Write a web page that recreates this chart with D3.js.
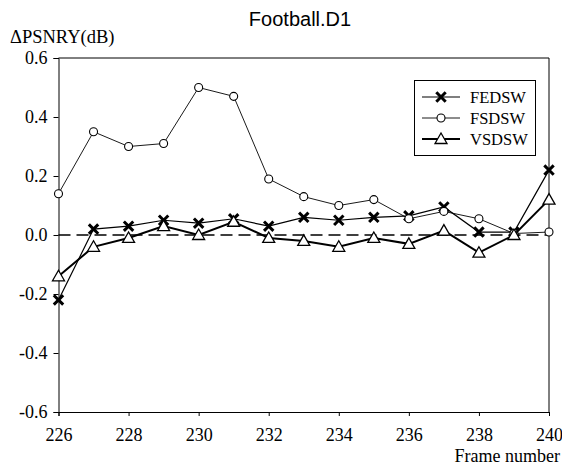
<!DOCTYPE html>
<html>
<head>
<meta charset="utf-8">
<script src="https://cdn.jsdelivr.net/npm/d3@7"></script>
<style>
  html, body { margin: 0; padding: 0; background: #fff; }
  svg { display: block; }
</style>
</head>
<body>
<div id="chart"></div>
<script>
// frames on the x axis
const frames = [226, 227, 228, 229, 230, 231, 232, 233, 234, 235, 236, 237, 238, 239, 240];

// ΔPSNR-Y per frame (dB)
const fedsw = [-0.22, 0.02, 0.03, 0.05, 0.04, 0.055, 0.03, 0.06, 0.05, 0.06, 0.065, 0.095, 0.01, 0.01, 0.22];
const fsdsw = [0.14, 0.35, 0.30, 0.31, 0.50, 0.47, 0.19, 0.13, 0.10, 0.12, 0.055, 0.08, 0.055, 0.005, 0.01];
const vsdsw = [-0.14, -0.04, -0.01, 0.03, 0.0, 0.045, -0.01, -0.02, -0.04, -0.01, -0.03, 0.015, -0.06, 0.0, 0.12];

const xTicks = [226, 228, 230, 232, 234, 236, 238, 240];
const yTicks = [-0.6, -0.4, -0.2, 0.0, 0.2, 0.4, 0.6];

const seriesNames = ["FEDSW", "FSDSW", "VSDSW"];

(() => {
  const width = 562, height = 465;
  const left = 58.5, right = 549, top = 58, bottom = 412;
  const serif = "Liberation Serif, Times New Roman, serif";

  const svg = d3.select("#chart").append("svg")
    .attr("width", width)
    .attr("height", height);

  const x = d3.scaleLinear().domain([226, 240]).range([left, right]);
  const y = d3.scaleLinear().domain([-0.6, 0.6]).range([bottom, top]);

  // title
  svg.append("text")
    .attr("x", 300).attr("y", 26)
    .attr("text-anchor", "middle")
    .attr("font-family", "Liberation Sans, Arial, sans-serif")
    .attr("font-size", 20)
    .text("Football.D1");

  // y title
  svg.append("text")
    .attr("x", 10).attr("y", 43)
    .attr("font-family", serif)
    .attr("font-size", 18.5)
    .text("ΔPSNRY(dB)");

  // x title
  svg.append("text")
    .attr("x", 560).attr("y", 462)
    .attr("text-anchor", "end")
    .attr("font-family", serif)
    .attr("font-size", 18)
    .text("Frame number");

  // frame: top and right edges
  svg.append("path")
    .attr("d", `M${left},${top}H${right}V${bottom}`)
    .attr("fill", "none")
    .attr("stroke", "#000")
    .attr("stroke-width", 1);

  // axes
  const xAxis = svg.append("g")
    .attr("transform", `translate(0,${bottom})`)
    .call(d3.axisBottom(x).tickValues(xTicks).tickSize(4).tickPadding(7).tickFormat(d3.format("d")));
  const yAxis = svg.append("g")
    .attr("transform", `translate(${left},0)`)
    .call(d3.axisLeft(y).tickValues(yTicks).tickSize(5).tickPadding(6)
      .tickFormat(d => d3.format(".1f")(d).replace("\u2212", "-")));

  [xAxis, yAxis].forEach(a => {
    a.attr("font-family", serif).attr("font-size", 18);
    a.select(".domain").attr("stroke", "#000").attr("stroke-width", 1);
    a.selectAll(".tick line").attr("stroke", "#000");
    a.selectAll(".tick text").attr("fill", "#000");
  });
  xAxis.selectAll(".tick text").attr("dy", "1em");

  // zero reference line
  svg.append("line")
    .attr("x1", left).attr("x2", right)
    .attr("y1", y(0)).attr("y2", y(0))
    .attr("stroke", "#000")
    .attr("stroke-width", 1.3)
    .attr("stroke-dasharray", "12,6");

  const line = d3.line().x(d => x(d[0])).y(d => y(d[1]));

  const series = [
    { name: seriesNames[0], values: fedsw, width: 1.2, marker: "x" },
    { name: seriesNames[1], values: fsdsw, width: 0.9, marker: "o" },
    { name: seriesNames[2], values: vsdsw, width: 2, marker: "t" }
  ];

  const drawMarker = (sel, kind, cx, cy) => {
    if (kind === "x") {
      const s = 4.7;
      sel.append("path")
        .attr("d", `M${cx - s},${cy - s}L${cx + s},${cy + s}M${cx - s},${cy + s}L${cx + s},${cy - s}`)
        .attr("stroke", "#000")
        .attr("stroke-width", 3);
    } else if (kind === "o") {
      sel.append("circle")
        .attr("cx", cx).attr("cy", cy).attr("r", 4)
        .attr("fill", "#fff")
        .attr("stroke", "#000")
        .attr("stroke-width", 1.1);
    } else {
      sel.append("path")
        .attr("d", `M${cx},${cy - 6}L${cx + 6},${cy + 4.5}L${cx - 6},${cy + 4.5}Z`)
        .attr("fill", "#fff")
        .attr("stroke", "#000")
        .attr("stroke-width", 1.3);
    }
  };

  series.forEach(s => {
    const pts = frames.map((f, i) => [f, s.values[i]]);
    const g = svg.append("g");
    g.append("path")
      .attr("d", line(pts))
      .attr("fill", "none")
      .attr("stroke", "#000")
      .attr("stroke-width", s.width);
    pts.forEach(p => drawMarker(g, s.marker, x(p[0]), y(p[1])));
  });

  // legend
  const lg = svg.append("g");
  lg.append("rect")
    .attr("x", 414.5).attr("y", 80.5)
    .attr("width", 121).attr("height", 75)
    .attr("fill", "#fff")
    .attr("stroke", "#000")
    .attr("stroke-width", 1);

  series.forEach((s, i) => {
    const cy = 97 + i * 21;
    lg.append("line")
      .attr("x1", 422).attr("x2", 460)
      .attr("y1", cy).attr("y2", cy)
      .attr("stroke", "#000")
      .attr("stroke-width", s.width);
    drawMarker(lg, s.marker, 441, cy);
    lg.append("text")
      .attr("x", 470).attr("y", cy + 6)
      .attr("font-family", serif)
      .attr("font-size", 16.5)
      .text(s.name);
  });
})();
</script>
</body>
</html>
